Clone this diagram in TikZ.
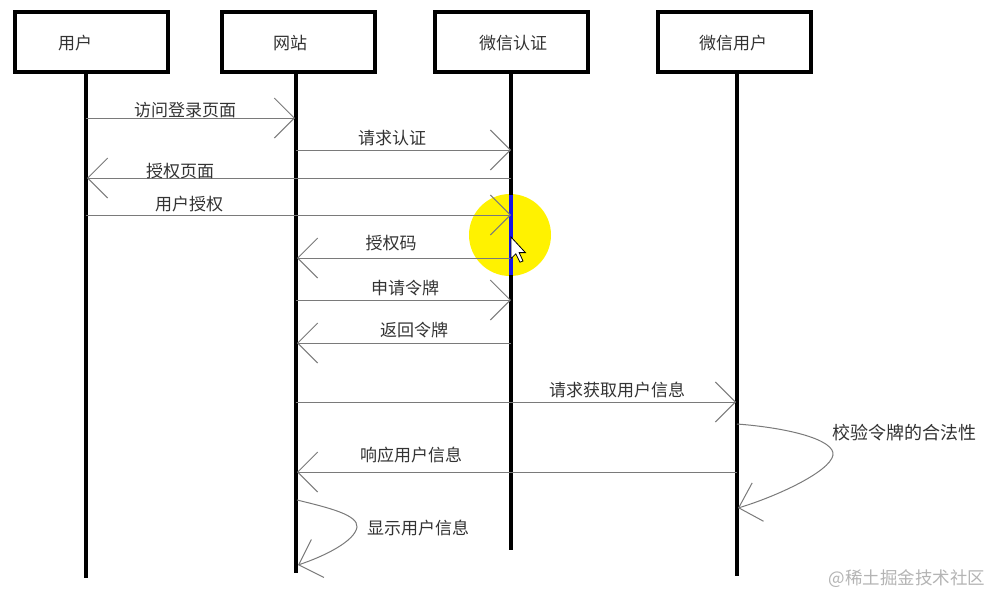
\documentclass[tikz,border=0pt]{standalone}
\usepackage{fontspec}
\newfontfamily\cjk{Noto Sans CJK SC}
\usetikzlibrary{arrows.meta}
\definecolor{txt}{HTML}{333333}
\definecolor{msg}{HTML}{7A7A7A}
\definecolor{hl}{HTML}{FFF200}
\definecolor{hlblue}{HTML}{1414E6}
\definecolor{wm}{HTML}{B4B4B4}
\begin{document}
\begin{tikzpicture}[x=1pt,y=-1pt,
  box/.style={draw=black,line width=4pt,minimum width=153pt,minimum height=60pt,inner sep=0pt,outer sep=0pt},
  boxtext/.style={font=\cjk\fontsize{17}{20}\selectfont,text=txt,inner sep=0pt},
  lbl/.style={font=\cjk\fontsize{17}{20}\selectfont,text=txt,inner sep=0pt},
  lifeline/.style={line width=4pt,draw=black},
  msgline/.style={draw=msg,line width=1pt,-{Straight Barb[length=20pt,width=40pt]}},
]
\useasboundingbox[fill=white] (0,0) rectangle (993,595);

% highlight under the cursor
\fill[hl] (510,235) circle[radius=41];

% participant boxes
\node[box] (b1) at (91.5,42) {};
\node[box] (b2) at (298.5,42) {};
\node[box] (b3) at (511.5,42) {};
\node[box] (b4) at (734,42) {};
\node[boxtext] (t1) at (75,43) {用户};
\node[boxtext] (t2) at (290,43) {网站};
\node[boxtext] (t3) at (513,43) {微信认证};
\node[boxtext] (t4) at (733,43) {微信用户};

% lifeline ends
\coordinate (e1) at (86,578);
\coordinate (e2) at (296,573);
\coordinate (e3) at (511,550);
\coordinate (e4) at (737,576);
\draw[lifeline] (e1 |- b1.south) -- (e1);
\draw[lifeline] (e2 |- b2.south) -- (e2);
\draw[lifeline] (e3 |- b3.south) -- (e3);
\draw[lifeline] (e4 |- b4.south) -- (e4);

% blue highlighted piece of the lifeline
\coordinate (hb1) at (511,195);
\coordinate (hb2) at (511,275);
\draw[line width=4pt,draw=hlblue] (hb1) -- (hb2);

% message end points
\coordinate (a1) at (86,118);   \coordinate (a2) at (295,118);
\coordinate (c1) at (296,150);  \coordinate (c2) at (511,150);
\coordinate (d1) at (511,178);  \coordinate (d2) at (87,178);
\coordinate (f1) at (86,215);   \coordinate (f2) at (511,215);
\coordinate (g1) at (511,258);  \coordinate (g2) at (297,258);
\coordinate (h1) at (296,300);  \coordinate (h2) at (511,300);
\coordinate (i1) at (511,343);  \coordinate (i2) at (297,343);
\coordinate (j1) at (296,402);  \coordinate (j2) at (736,402);
\coordinate (k1) at (737,424);  \coordinate (k2) at (738,508);
\coordinate (n1) at (737,472);  \coordinate (n2) at (297,472);
\coordinate (p1) at (297,500);  \coordinate (p2) at (298,565);

% messages
\draw[msgline] (a1) -- (a2);
\node[lbl] (m1) at (185,110) {访问登录页面};
\draw[msgline] (c1) -- (c2);
\node[lbl] (m2) at (392,138) {请求认证};
\draw[msgline] (d1) -- (d2);
\node[lbl] (m3) at (180,171) {授权页面};
\draw[msgline] (f1) -- (f2);
\node[lbl] (m4) at (189,204) {用户授权};
\draw[msgline] (g1) -- (g2);
\node[lbl] (m5) at (391,243) {授权码};
\draw[msgline] (h1) -- (h2);
\node[lbl] (m6) at (405,288) {申请令牌};
\draw[msgline] (i1) -- (i2);
\node[lbl] (m7) at (414,330) {返回令牌};
\draw[msgline] (j1) -- (j2);
\node[lbl] (m8) at (617,390) {请求获取用户信息};
\draw[msgline] (k1) .. controls (790,428) and (835,440) .. (833,455)
               .. controls (830,472) and (775,497) .. (k2);
\node[lbl,font=\cjk\fontsize{18}{21}\selectfont] (m9) at (904,433) {校验令牌的合法性};
\draw[msgline] (n1) -- (n2);
\node[lbl] (m10) at (411,455) {响应用户信息};
\draw[msgline] (p1) .. controls (330,508) and (358,515) .. (357,527)
               .. controls (355,541) and (325,556) .. (p2);
\node[lbl] (m11) at (418,528) {显示用户信息};

% mouse cursor
\draw[fill=white,draw=black,line width=0.8pt,shift={(511,237)},scale=1.2]
  (0,0) -- (0,18) -- (4,14) -- (7.5,21) -- (10,20) -- (6.8,13) -- (12,13) -- cycle;

% watermark
\node[font=\cjk\fontsize{17.5}{20}\selectfont,text=wm,inner sep=0pt] (wmk) at (907,579) {@稀土掘金技术社区};
\end{tikzpicture}
\end{document}
